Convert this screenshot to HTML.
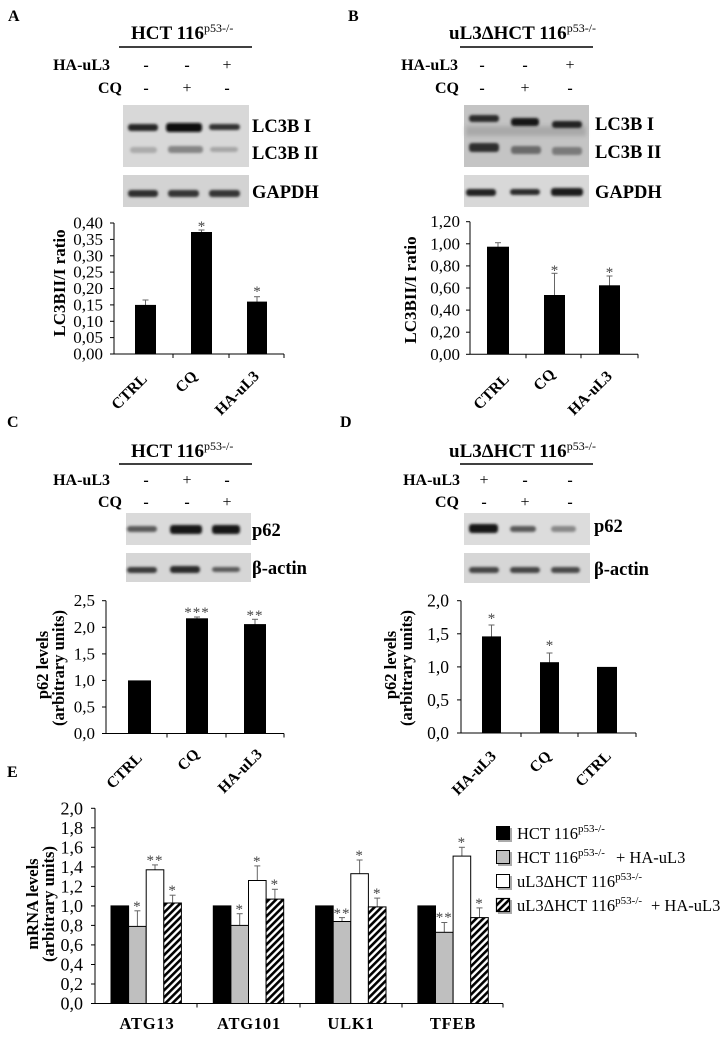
<!DOCTYPE html>
<html><head><meta charset="utf-8"><style>
html,body{margin:0;padding:0;background:#fff;}
svg{display:block;}
text{font-family:"Liberation Serif","DejaVu Serif",serif;}
.b{font-weight:bold;}
</style></head><body>
<svg width="726" height="1037" viewBox="0 0 726 1037" xmlns="http://www.w3.org/2000/svg">
<defs>
<filter id="bl" x="-20%" y="-100%" width="140%" height="300%"><feGaussianBlur stdDeviation="1.3"/></filter>
<filter id="bl2" x="-20%" y="-100%" width="140%" height="300%"><feGaussianBlur stdDeviation="2.2"/></filter>
<pattern id="h" width="5" height="5" patternUnits="userSpaceOnUse" patternTransform="rotate(45)">
<rect width="5" height="5" fill="#fff"/><rect width="2.6" height="5" fill="#000"/></pattern>
</defs>
<rect width="726" height="1037" fill="#fff"/>

<!-- Panel letters -->
<text x="8" y="21" font-size="16" class="b">A</text>
<text x="348" y="21" font-size="16" class="b">B</text>
<text x="7" y="427" font-size="16" class="b">C</text>
<text x="340" y="427" font-size="16" class="b">D</text>
<text x="7" y="777" font-size="16" class="b">E</text>

<!-- ===== Panel A header ===== -->
<text x="131" y="39" font-size="19" class="b">HCT 116<tspan font-size="12" font-weight="normal" dy="-7">p53-/-</tspan></text>
<line x1="119" y1="47" x2="252" y2="47" stroke="#000" stroke-width="1.5"/>
<text x="110" y="70" font-size="16" class="b" text-anchor="end">HA-uL3</text>
<text x="122" y="93" font-size="16" class="b" text-anchor="end">CQ</text>
<g font-size="16" text-anchor="middle">
<text x="146" y="70" class="b">-</text><text x="187" y="70" class="b">-</text><text x="227" y="70">+</text>
<text x="146" y="93" class="b">-</text><text x="187" y="93">+</text><text x="227" y="93" class="b">-</text>
</g>
<!-- blots A -->
<rect x="123" y="105" width="126" height="62" fill="#d8d8d8"/>
<g filter="url(#bl)">
<rect x="128" y="124" width="30" height="7" rx="3" fill="#262626"/>
<rect x="166" y="123" width="36" height="9" rx="3" fill="#111"/>
<rect x="209" y="124" width="31" height="6" rx="3" fill="#333"/>
<rect x="130" y="147" width="27" height="6" rx="3" fill="#aaa"/>
<rect x="168" y="146" width="35" height="7" rx="3" fill="#858585"/>
<rect x="210" y="147" width="28" height="5" rx="3" fill="#a5a5a5"/>
</g>
<rect x="123" y="175" width="126" height="32" fill="#d3d3d3"/>
<g filter="url(#bl)">
<rect x="128" y="190" width="30" height="7" rx="3" fill="#2e2e2e"/>
<rect x="168" y="190" width="31" height="7" rx="3" fill="#363636"/>
<rect x="209" y="190" width="31" height="7" rx="3" fill="#363636"/>
</g>
<g font-size="18.5" class="b">
<text x="252" y="132">LC3B I</text>
<text x="252" y="159">LC3B II</text>
<text x="252" y="198">GAPDH</text>
</g>

<!-- Chart A -->
<g font-size="17" text-anchor="end">
<text x="103" y="359.5">0,00</text>
<text x="103" y="343.1">0,05</text>
<text x="103" y="326.8">0,10</text>
<text x="103" y="310.4">0,15</text>
<text x="103" y="294">0,20</text>
<text x="103" y="277.6">0,25</text>
<text x="103" y="261.3">0,30</text>
<text x="103" y="244.9">0,35</text>
<text x="103" y="228.5">0,40</text>
</g>
<g stroke="#000" stroke-width="1">
<line x1="114" y1="223" x2="114" y2="354"/>
<line x1="110" y1="354" x2="114" y2="354"/><line x1="110" y1="337.6" x2="114" y2="337.6"/>
<line x1="110" y1="321.3" x2="114" y2="321.3"/><line x1="110" y1="304.9" x2="114" y2="304.9"/>
<line x1="110" y1="288.5" x2="114" y2="288.5"/><line x1="110" y1="272.1" x2="114" y2="272.1"/>
<line x1="110" y1="255.8" x2="114" y2="255.8"/><line x1="110" y1="239.4" x2="114" y2="239.4"/>
<line x1="110" y1="223" x2="114" y2="223"/>
<line x1="114" y1="354" x2="284" y2="354"/>
<line x1="173" y1="354" x2="173" y2="358"/><line x1="229" y1="354" x2="229" y2="358"/><line x1="284" y1="354" x2="284" y2="358"/>
</g>
<g stroke="#666" stroke-width="1">
<line x1="145.5" y1="300" x2="145.5" y2="305"/><line x1="142.5" y1="300" x2="148.5" y2="300"/>
<line x1="201.5" y1="230" x2="201.5" y2="232"/><line x1="198.5" y1="230" x2="204.5" y2="230"/>
<line x1="257" y1="296.7" x2="257" y2="302"/><line x1="254" y1="296.7" x2="260" y2="296.7"/>
</g>
<rect x="135" y="304.9" width="21" height="49.1" fill="#000"/>
<rect x="191" y="232" width="21" height="122" fill="#000"/>
<rect x="247" y="301.6" width="20" height="52.4" fill="#000"/>
<g font-size="15" fill="#444" text-anchor="middle">
<text x="201.5" y="231">*</text><text x="257" y="296">*</text>
</g>
<text transform="translate(65,283) rotate(-90)" font-size="17" class="b" text-anchor="middle">LC3BII/I ratio</text>
<g font-size="15.5" class="b" text-anchor="end">
<text transform="translate(148,380) rotate(-45)">CTRL</text>
<text transform="translate(198,377) rotate(-45)">CQ</text>
<text transform="translate(260,377) rotate(-45)">HA-uL3</text>
</g>

<!-- ===== Panel B header ===== -->
<text x="449" y="39" font-size="19" class="b">uL3ΔHCT 116<tspan font-size="12" font-weight="normal" dy="-7">p53-/-</tspan></text>
<line x1="460" y1="47" x2="593" y2="47" stroke="#000" stroke-width="1.5"/>
<text x="458" y="70" font-size="16" class="b" text-anchor="end">HA-uL3</text>
<text x="459" y="93" font-size="16" class="b" text-anchor="end">CQ</text>
<g font-size="16" text-anchor="middle">
<text x="482" y="70" class="b">-</text><text x="525" y="70" class="b">-</text><text x="570" y="70">+</text>
<text x="482" y="93" class="b">-</text><text x="525" y="93">+</text><text x="570" y="93" class="b">-</text>
</g>
<rect x="464" y="105" width="125" height="62" fill="#c4c4c4"/>
<g filter="url(#bl2)">
<rect x="466" y="126" width="120" height="10" fill="#a9a9a9"/>
</g>
<g filter="url(#bl)">
<rect x="469" y="115" width="30" height="7" rx="3" fill="#2a2a2a"/>
<rect x="511" y="118" width="28" height="8" rx="3" fill="#151515"/>
<rect x="552" y="121" width="30" height="7" rx="3" fill="#222"/>
<rect x="469" y="143" width="30" height="9" rx="3" fill="#2e2e2e"/>
<rect x="511" y="146" width="30" height="8" rx="3" fill="#6a6a6a"/>
<rect x="552" y="147" width="30" height="8" rx="3" fill="#7a7a7a"/>
</g>
<rect x="464" y="175" width="125" height="32" fill="#d8d8d8"/>
<g filter="url(#bl)">
<rect x="466" y="189" width="30" height="7" rx="3" fill="#222"/>
<rect x="510" y="189" width="30" height="6" rx="3" fill="#2a2a2a"/>
<rect x="551" y="188" width="32" height="8" rx="3" fill="#1a1a1a"/>
</g>
<g font-size="18.5" class="b">
<text x="595" y="130">LC3B I</text>
<text x="595" y="158">LC3B II</text>
<text x="595" y="198">GAPDH</text>
</g>

<!-- Chart B -->
<g font-size="17" text-anchor="end">
<text x="460" y="359.8">0,00</text>
<text x="460" y="337.7">0,20</text>
<text x="460" y="315.6">0,40</text>
<text x="460" y="293.5">0,60</text>
<text x="460" y="271.4">0,80</text>
<text x="460" y="249.3">1,00</text>
<text x="460" y="227.2">1,20</text>
</g>
<g stroke="#000" stroke-width="1">
<line x1="470" y1="221.7" x2="470" y2="354.3"/>
<line x1="466" y1="354.3" x2="470" y2="354.3"/><line x1="466" y1="332.2" x2="470" y2="332.2"/>
<line x1="466" y1="310.1" x2="470" y2="310.1"/><line x1="466" y1="288" x2="470" y2="288"/>
<line x1="466" y1="265.9" x2="470" y2="265.9"/><line x1="466" y1="243.8" x2="470" y2="243.8"/>
<line x1="466" y1="221.7" x2="470" y2="221.7"/>
<line x1="470" y1="354.3" x2="638" y2="354.3"/>
<line x1="526" y1="354.3" x2="526" y2="358.3"/><line x1="581" y1="354.3" x2="581" y2="358.3"/><line x1="638" y1="354.3" x2="638" y2="358.3"/>
</g>
<g stroke="#666" stroke-width="1">
<line x1="498" y1="242.7" x2="498" y2="247"/><line x1="495" y1="242.7" x2="501" y2="242.7"/>
<line x1="554.5" y1="273.3" x2="554.5" y2="295"/><line x1="551.5" y1="273.3" x2="557.5" y2="273.3"/>
<line x1="609.5" y1="276" x2="609.5" y2="286"/><line x1="606.5" y1="276" x2="612.5" y2="276"/>
</g>
<rect x="487" y="246.7" width="22" height="107.6" fill="#000"/>
<rect x="544" y="295" width="21" height="59.3" fill="#000"/>
<rect x="599" y="285.3" width="21" height="69" fill="#000"/>
<g font-size="15" fill="#444" text-anchor="middle">
<text x="554.5" y="275">*</text><text x="609.5" y="277">*</text>
</g>
<text transform="translate(416,290) rotate(-90)" font-size="17" class="b" text-anchor="middle">LC3BII/I ratio</text>
<g font-size="15.5" class="b" text-anchor="end">
<text transform="translate(510,380) rotate(-45)">CTRL</text>
<text transform="translate(556,375) rotate(-45)">CQ</text>
<text transform="translate(613,377) rotate(-45)">HA-uL3</text>
</g>

<!-- ===== Panel C header ===== -->
<text x="131" y="457" font-size="19" class="b">HCT 116<tspan font-size="12" font-weight="normal" dy="-7">p53-/-</tspan></text>
<line x1="119" y1="464" x2="252" y2="464" stroke="#000" stroke-width="1.5"/>
<text x="110" y="485" font-size="16" class="b" text-anchor="end">HA-uL3</text>
<text x="122" y="507" font-size="16" class="b" text-anchor="end">CQ</text>
<g font-size="16" text-anchor="middle">
<text x="146" y="485" class="b">-</text><text x="187" y="485">+</text><text x="227" y="485" class="b">-</text>
<text x="146" y="507" class="b">-</text><text x="187" y="507" class="b">-</text><text x="227" y="507">+</text>
</g>
<rect x="126" y="513" width="125" height="32" fill="#dadada"/>
<g filter="url(#bl)">
<rect x="127" y="526" width="30" height="6" rx="3" fill="#5a5a5a"/>
<rect x="170" y="525" width="32" height="9" rx="3" fill="#151515"/>
<rect x="212" y="525" width="28" height="9" rx="3" fill="#151515"/>
</g>
<rect x="126" y="553" width="125" height="29" fill="#d6d6d6"/>
<g filter="url(#bl)">
<rect x="127" y="567" width="30" height="6" rx="3" fill="#3a3a3a"/>
<rect x="170" y="566" width="30" height="7" rx="3" fill="#2a2a2a"/>
<rect x="212" y="567" width="28" height="5" rx="3" fill="#5a5a5a"/>
</g>
<g font-size="18.5" class="b">
<text x="252" y="536">p62</text>
<text x="252" y="574">β-actin</text>
</g>

<!-- Chart C -->
<g font-size="17" text-anchor="end">
<text x="95" y="739">0,0</text>
<text x="95" y="712.5">0,5</text>
<text x="95" y="685.9">1,0</text>
<text x="95" y="659.4">1,5</text>
<text x="95" y="632.8">2,0</text>
<text x="95" y="606.2">2,5</text>
</g>
<g stroke="#000" stroke-width="1">
<line x1="106" y1="600.7" x2="106" y2="733.5"/>
<line x1="102" y1="733.5" x2="106" y2="733.5"/><line x1="102" y1="707" x2="106" y2="707"/>
<line x1="102" y1="680.4" x2="106" y2="680.4"/><line x1="102" y1="653.9" x2="106" y2="653.9"/>
<line x1="102" y1="627.3" x2="106" y2="627.3"/><line x1="102" y1="600.7" x2="106" y2="600.7"/>
<line x1="106" y1="733.5" x2="284" y2="733.5"/>
<line x1="167" y1="733.5" x2="167" y2="737.5"/><line x1="226" y1="733.5" x2="226" y2="737.5"/><line x1="284" y1="733.5" x2="284" y2="737.5"/>
</g>
<g stroke="#666" stroke-width="1">
<line x1="197" y1="617" x2="197" y2="619"/><line x1="194" y1="617" x2="200" y2="617"/>
<line x1="255" y1="619.3" x2="255" y2="625"/><line x1="252" y1="619.3" x2="258" y2="619.3"/>
</g>
<rect x="128" y="680.4" width="23" height="53.1" fill="#000"/>
<rect x="186" y="618.3" width="22" height="115.2" fill="#000"/>
<rect x="244" y="624.1" width="22" height="109.4" fill="#000"/>
<g font-size="15" fill="#444" text-anchor="middle">
<text x="197" y="617" letter-spacing="1">***</text><text x="255" y="620" letter-spacing="1">**</text>
</g>
<g font-size="16.5" class="b" text-anchor="middle">
<text transform="translate(48,665) rotate(-90)">p62 levels</text>
<text transform="translate(64,668) rotate(-90)">(arbitrary units)</text>
</g>
<g font-size="15.5" class="b" text-anchor="end">
<text transform="translate(143,759) rotate(-45)">CTRL</text>
<text transform="translate(200,755) rotate(-45)">CQ</text>
<text transform="translate(263,755) rotate(-45)">HA-uL3</text>
</g>

<!-- ===== Panel D header ===== -->
<text x="449" y="457" font-size="19" class="b">uL3ΔHCT 116<tspan font-size="12" font-weight="normal" dy="-7">p53-/-</tspan></text>
<line x1="460" y1="464" x2="593" y2="464" stroke="#000" stroke-width="1.5"/>
<text x="460" y="485" font-size="16" class="b" text-anchor="end">HA-uL3</text>
<text x="459" y="507" font-size="16" class="b" text-anchor="end">CQ</text>
<g font-size="16" text-anchor="middle">
<text x="484" y="485">+</text><text x="525" y="485" class="b">-</text><text x="570" y="485" class="b">-</text>
<text x="484" y="507" class="b">-</text><text x="525" y="507">+</text><text x="570" y="507" class="b">-</text>
</g>
<rect x="464" y="513" width="126" height="32" fill="#dcdcdc"/>
<g filter="url(#bl)">
<rect x="469" y="524" width="29" height="9" rx="3" fill="#151515"/>
<rect x="510" y="526" width="26" height="6" rx="3" fill="#5a5a5a"/>
<rect x="551" y="526" width="25" height="6" rx="3" fill="#888"/>
</g>
<rect x="464" y="553" width="126" height="30" fill="#d6d6d6"/>
<g filter="url(#bl)">
<rect x="469" y="567" width="30" height="6" rx="3" fill="#444"/>
<rect x="510" y="567" width="30" height="6" rx="3" fill="#444"/>
<rect x="551" y="567" width="29" height="6" rx="3" fill="#4a4a4a"/>
</g>
<g font-size="18.5" class="b">
<text x="594" y="532">p62</text>
<text x="594" y="575">β-actin</text>
</g>

<!-- Chart D -->
<g font-size="17.5" text-anchor="end">
<text x="449" y="739">0,0</text>
<text x="449" y="705.9">0,5</text>
<text x="449" y="672.9">1,0</text>
<text x="449" y="639.8">1,5</text>
<text x="449" y="606.7">2,0</text>
</g>
<g stroke="#000" stroke-width="1">
<line x1="461" y1="600.7" x2="461" y2="733"/>
<line x1="457" y1="733" x2="461" y2="733"/><line x1="457" y1="699.9" x2="461" y2="699.9"/>
<line x1="457" y1="666.9" x2="461" y2="666.9"/><line x1="457" y1="633.8" x2="461" y2="633.8"/>
<line x1="457" y1="600.7" x2="461" y2="600.7"/>
<line x1="461" y1="733" x2="636" y2="733"/>
<line x1="521" y1="733" x2="521" y2="737"/><line x1="578" y1="733" x2="578" y2="737"/><line x1="636" y1="733" x2="636" y2="737"/>
</g>
<g stroke="#666" stroke-width="1">
<line x1="491.5" y1="625" x2="491.5" y2="637"/><line x1="488.5" y1="625" x2="494.5" y2="625"/>
<line x1="549.5" y1="653" x2="549.5" y2="663"/><line x1="546.5" y1="653" x2="552.5" y2="653"/>
</g>
<rect x="482" y="636.4" width="19" height="96.6" fill="#000"/>
<rect x="540" y="662.2" width="19" height="70.8" fill="#000"/>
<rect x="597" y="666.9" width="20" height="66.1" fill="#000"/>
<g font-size="15" fill="#444" text-anchor="middle">
<text x="491.5" y="623">*</text><text x="549.5" y="650">*</text>
</g>
<g font-size="16.5" class="b" text-anchor="middle">
<text transform="translate(396,665) rotate(-90)">p62 levels</text>
<text transform="translate(412,668) rotate(-90)">(arbitrary units)</text>
</g>
<g font-size="15.5" class="b" text-anchor="end">
<text transform="translate(497,757) rotate(-45)">HA-uL3</text>
<text transform="translate(552,757) rotate(-45)">CQ</text>
<text transform="translate(612,757) rotate(-45)">CTRL</text>
</g>

<!-- ===== Panel E ===== -->
<g font-size="18" text-anchor="end">
<text x="83" y="1009.5">0,0</text>
<text x="83" y="990">0,2</text>
<text x="83" y="970.5">0,4</text>
<text x="83" y="950.9">0,6</text>
<text x="83" y="931.4">0,8</text>
<text x="83" y="911.9">1,0</text>
<text x="83" y="892.4">1,2</text>
<text x="83" y="872.9">1,4</text>
<text x="83" y="853.3">1,6</text>
<text x="83" y="833.8">1,8</text>
<text x="83" y="814.3">2,0</text>
</g>
<g stroke="#000" stroke-width="1">
<line x1="95" y1="808.3" x2="95" y2="1003.5"/>
<line x1="91" y1="1003.5" x2="95" y2="1003.5"/><line x1="91" y1="984" x2="95" y2="984"/>
<line x1="91" y1="964.5" x2="95" y2="964.5"/><line x1="91" y1="944.9" x2="95" y2="944.9"/>
<line x1="91" y1="925.4" x2="95" y2="925.4"/><line x1="91" y1="905.9" x2="95" y2="905.9"/>
<line x1="91" y1="886.4" x2="95" y2="886.4"/><line x1="91" y1="866.9" x2="95" y2="866.9"/>
<line x1="91" y1="847.3" x2="95" y2="847.3"/><line x1="91" y1="827.8" x2="95" y2="827.8"/>
<line x1="91" y1="808.3" x2="95" y2="808.3"/>
<line x1="95" y1="1003.5" x2="503" y2="1003.5"/>
<line x1="197" y1="1003.5" x2="197" y2="1007.5"/><line x1="300" y1="1003.5" x2="300" y2="1007.5"/>
<line x1="402" y1="1003.5" x2="402" y2="1007.5"/><line x1="503" y1="1003.5" x2="503" y2="1007.5"/>
</g>
<!-- error bars E -->
<g stroke="#666" stroke-width="1">
<line x1="137.4" y1="910.8" x2="137.4" y2="926.4"/><line x1="134.4" y1="910.8" x2="140.4" y2="910.8"/>
<line x1="155" y1="864.9" x2="155" y2="869.8"/><line x1="152" y1="864.9" x2="158" y2="864.9"/>
<line x1="172.6" y1="895.2" x2="172.6" y2="903"/><line x1="169.6" y1="895.2" x2="175.6" y2="895.2"/>

<line x1="239.7" y1="913.7" x2="239.7" y2="925.4"/><line x1="236.7" y1="913.7" x2="242.7" y2="913.7"/>
<line x1="257.3" y1="865.9" x2="257.3" y2="880.5"/><line x1="254.3" y1="865.9" x2="260.3" y2="865.9"/>
<line x1="274.9" y1="889.3" x2="274.9" y2="899.1"/><line x1="271.9" y1="889.3" x2="277.9" y2="889.3"/>

<line x1="342" y1="917.6" x2="342" y2="921.5"/><line x1="339" y1="917.6" x2="345" y2="917.6"/>
<line x1="359.6" y1="860" x2="359.6" y2="873.7"/><line x1="356.6" y1="860" x2="362.6" y2="860"/>
<line x1="377.2" y1="898.1" x2="377.2" y2="906.9"/><line x1="374.2" y1="898.1" x2="380.2" y2="898.1"/>

<line x1="444.3" y1="922.5" x2="444.3" y2="932.3"/><line x1="441.3" y1="922.5" x2="447.3" y2="922.5"/>
<line x1="461.9" y1="847.3" x2="461.9" y2="856.1"/><line x1="458.9" y1="847.3" x2="464.9" y2="847.3"/>
<line x1="479.5" y1="907.9" x2="479.5" y2="917.6"/><line x1="476.5" y1="907.9" x2="482.5" y2="907.9"/>
</g>
<!-- bars E -->
<g stroke="#000" stroke-width="1">
<rect x="111" y="905.9" width="17.6" height="97.6" fill="#000"/>
<rect x="128.6" y="926.4" width="17.6" height="77.1" fill="#bfbfbf"/>
<rect x="146.2" y="869.8" width="17.6" height="133.7" fill="#fff"/>
<rect x="163.8" y="903" width="17.6" height="100.5" fill="url(#h)"/>

<rect x="213.3" y="905.9" width="17.6" height="97.6" fill="#000"/>
<rect x="230.9" y="925.4" width="17.6" height="78.1" fill="#bfbfbf"/>
<rect x="248.5" y="880.5" width="17.6" height="123" fill="#fff"/>
<rect x="266.1" y="899.1" width="17.6" height="104.4" fill="url(#h)"/>

<rect x="315.6" y="905.9" width="17.6" height="97.6" fill="#000"/>
<rect x="333.2" y="921.5" width="17.6" height="82" fill="#bfbfbf"/>
<rect x="350.8" y="873.7" width="17.6" height="129.8" fill="#fff"/>
<rect x="368.4" y="906.9" width="17.6" height="96.6" fill="url(#h)"/>

<rect x="417.9" y="905.9" width="17.6" height="97.6" fill="#000"/>
<rect x="435.5" y="932.3" width="17.6" height="71.2" fill="#bfbfbf"/>
<rect x="453.1" y="856.1" width="17.6" height="147.4" fill="#fff"/>
<rect x="470.7" y="917.6" width="17.6" height="85.9" fill="url(#h)"/>
</g>
<g font-size="15" fill="#444" text-anchor="middle" letter-spacing="1">
<text x="137.4" y="911">*</text><text x="155" y="865">**</text><text x="172.6" y="895">*</text>
<text x="239.7" y="914">*</text><text x="257.3" y="866">*</text><text x="274.9" y="889">*</text>
<text x="342" y="918">**</text><text x="359.6" y="860">*</text><text x="377.2" y="898">*</text>
<text x="444.3" y="922">**</text><text x="461.9" y="847">*</text><text x="479.5" y="908">*</text>
</g>
<g font-size="16.5" class="b" text-anchor="middle" letter-spacing="0.8">
<text x="147" y="1029">ATG13</text>
<text x="249" y="1029">ATG101</text>
<text x="351" y="1029">ULK1</text>
<text x="453" y="1029">TFEB</text>
</g>
<g font-size="16.5" class="b" text-anchor="middle">
<text transform="translate(38,904) rotate(-90)">mRNA levels</text>
<text transform="translate(54,904) rotate(-90)">(arbitrary units)</text>
</g>

<!-- Legend -->
<g>
<rect x="498" y="828" width="14" height="14" fill="#aaa"/>
<rect x="496" y="826" width="14" height="14" fill="#000"/>
<rect x="498" y="852" width="14" height="14" fill="#aaa"/>
<rect x="496.5" y="850.5" width="13" height="13" fill="#bfbfbf" stroke="#000" stroke-width="1"/>
<rect x="498" y="876" width="14" height="14" fill="#aaa"/>
<rect x="496.5" y="874.5" width="13" height="13" fill="#fff" stroke="#000" stroke-width="1"/>
<rect x="498" y="900" width="14" height="14" fill="#aaa"/>
<rect x="496.5" y="898.5" width="13" height="13" fill="url(#h)" stroke="#000" stroke-width="1.2"/>
</g>
<g font-size="16.5">
<text x="517" y="839">HCT 116<tspan font-size="11" dy="-7">p53-/-</tspan></text>
<text x="517" y="863">HCT 116<tspan font-size="11" dy="-7">p53-/-</tspan></text>
<text x="616" y="863">+ HA-uL3</text>
<text x="517" y="887">uL3ΔHCT 116<tspan font-size="11" dy="-7">p53-/-</tspan></text>
<text x="517" y="911">uL3ΔHCT 116<tspan font-size="11" dy="-7">p53-/-</tspan></text>
<text x="651" y="911">+ HA-uL3</text>
</g>
</svg>
</body></html>
